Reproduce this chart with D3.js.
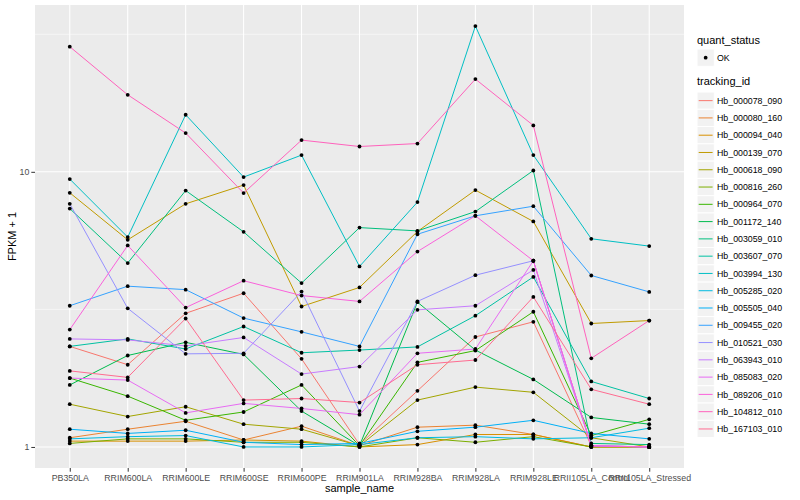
<!DOCTYPE html>
<head>
<meta charset="utf-8">
<style>

body {
  margin: 0;
  background-color: #fff;
  font-family: "Liberation Sans", Arial, sans-serif;
}

.grid-major line {
  stroke: #fff;
  stroke-width: 1.07;
}

.grid-minor line {
  stroke: #fff;
  stroke-width: 0.53;
}

.axis text {
  fill: #4d4d4d;
  font-size: 8.8px;
  font-family: "Liberation Sans", Arial, sans-serif;
}

.axis line {
  stroke: #333;
}

.legend text {
  font-size: 8.8px;
  fill: #000;
}

</style>
</head>
<body>
<svg width="800" height="500"></svg>
<script src="https://d3js.org/d3.v7.min.js"></script>
<script>
// samples on the x axis
var samples = ["PB350LA", "RRIM600LA", "RRIM600LE", "RRIM600SE", "RRIM600PE", "RRIM901LA",
  "RRIM928BA", "RRIM928LA", "RRIM928LE", "RRII105LA_Control", "RRII105LA_Stressed"];

var trackingIds = ["Hb_000078_090", "Hb_000080_160", "Hb_000094_040", "Hb_000139_070", "Hb_000618_090",
  "Hb_000816_260", "Hb_000964_070", "Hb_001172_140", "Hb_003059_010", "Hb_003607_070",
  "Hb_003994_130", "Hb_005285_020", "Hb_005505_040", "Hb_009455_020", "Hb_010521_030",
  "Hb_063943_010", "Hb_085083_020", "Hb_089206_010", "Hb_104812_010", "Hb_167103_010"];

// FPKM + 1, one value per sample
var hb_000078_090 = [2.32, 1.99, 3.06, 3.62, 2.09, 1.02, 1.60, 2.51, 2.85, 1.01, 1.00];
var hb_000080_160 = [1.08, 1.16, 1.24, 1.06, 1.19, 1.01, 1.18, 1.20, 1.11, 1.00, 1.00];
var hb_000094_040 = [1.05, 1.05, 1.05, 1.06, 1.05, 1.00, 1.02, 1.11, 1.11, 1.00, 1.00];
var hb_000139_070 = [8.39, 5.66, 7.65, 8.95, 3.24, 3.80, 6.07, 8.58, 6.60, 2.81, 2.88];
var hb_000618_090 = [1.43, 1.29, 1.40, 1.21, 1.16, 1.01, 1.48, 1.65, 1.58, 1.08, 1.00];
var hb_000816_260 = [1.03, 1.07, 1.07, 1.04, 1.04, 1.00, 1.08, 1.04, 1.09, 1.00, 1.00];
var hb_000964_070 = [1.78, 1.53, 1.25, 1.34, 1.68, 1.01, 2.03, 2.24, 3.10, 1.10, 1.26];
var hb_001172_140 = [1.68, 2.15, 2.40, 2.17, 1.35, 1.01, 3.36, 2.25, 1.76, 1.28, 1.21];
var hb_003059_010 = [7.35, 4.66, 8.55, 6.05, 3.94, 6.27, 6.10, 7.17, 10.11, 1.03, 1.02];
var hb_003607_070 = [2.32, 2.47, 2.27, 2.74, 2.20, 2.25, 2.31, 3.00, 4.15, 1.73, 1.50];
var hb_003994_130 = [9.41, 5.79, 16.12, 9.57, 11.50, 4.53, 7.76, 33.87, 11.50, 5.71, 5.37];
var hb_005285_020 = [1.07, 1.09, 1.10, 1.00, 1.00, 1.02, 1.08, 1.09, 1.07, 1.08, 1.17];
var hb_005505_040 = [1.16, 1.12, 1.15, 1.04, 1.02, 1.03, 1.14, 1.18, 1.25, 1.12, 1.07];
var hb_009455_020 = [3.26, 3.84, 3.73, 2.94, 2.62, 2.32, 5.93, 6.92, 7.50, 4.20, 3.66];
var hb_010521_030 = [7.65, 3.19, 2.18, 2.19, 3.67, 1.35, 3.38, 4.21, 4.75, 1.01, 1.00];
var hb_063943_010 = [2.47, 2.45, 2.33, 2.50, 1.84, 1.96, 3.15, 3.26, 4.40, 1.01, 1.00];
var hb_085083_020 = [1.78, 1.75, 1.33, 1.44, 1.38, 1.31, 2.19, 2.27, 4.75, 1.01, 1.00];
var hb_089206_010 = [2.67, 5.40, 3.21, 4.02, 3.55, 3.38, 5.13, 6.92, 4.75, 1.01, 1.00];
var hb_104812_010 = [28.49, 19.05, 13.83, 8.37, 13.04, 12.36, 12.67, 21.73, 14.74, 2.10, 2.88];
var hb_167103_010 = [1.89, 1.79, 2.93, 1.48, 1.50, 1.45, 1.99, 2.07, 3.51, 1.62, 1.43];

var yTicks = [1, 10];
var yMinorTicks = [3.1623, 31.623];

var palette = ["#F8766D", "#EA8331", "#D89000", "#C09B00", "#A3A500", "#7CAE00", "#39B600", "#00BB4E",
  "#00BF7D", "#00C1A3", "#00BFC4", "#00BAE0", "#00B0F6", "#35A2FF", "#9590FF", "#C77CFF",
  "#E76BF3", "#FA62DB", "#FF62BC", "#FF6C91"];

var seriesValues = [hb_000078_090, hb_000080_160, hb_000094_040, hb_000139_070, hb_000618_090,
  hb_000816_260, hb_000964_070, hb_001172_140, hb_003059_010, hb_003607_070,
  hb_003994_130, hb_005285_020, hb_005505_040, hb_009455_020, hb_010521_030,
  hb_063943_010, hb_085083_020, hb_089206_010, hb_104812_010, hb_167103_010];

var series = trackingIds.map(function(id, i) {
  return {id: id, values: seriesValues[i].map(function(v, j) { return {sample: samples[j], value: v}; })};
});

var svg = d3.select("svg"),
    panel = {left: 35, right: 684, top: 5, bottom: 468};

var color = d3.scaleOrdinal().domain(trackingIds).range(palette);

var x = d3.scalePoint()
    .domain(samples)
    .range([panel.left, panel.right])
    .padding(0.6);

// log scale with ggplot-like 5% expansion in log space
var allValues = d3.merge(seriesValues);
var lo = Math.log10(d3.min(allValues)), hi = Math.log10(d3.max(allValues)), pad = (hi - lo) * 0.05;
var y = d3.scaleLog()
    .domain([Math.pow(10, lo - pad), Math.pow(10, hi + pad)])
    .range([panel.bottom, panel.top]);

svg.append("rect")
    .attr("x", panel.left)
    .attr("y", panel.top)
    .attr("width", panel.right - panel.left)
    .attr("height", panel.bottom - panel.top)
    .attr("fill", "#ebebeb");

svg.append("g")
    .attr("class", "grid-minor")
  .selectAll("line")
  .data(yMinorTicks)
  .enter().append("line")
    .attr("x1", panel.left).attr("x2", panel.right)
    .attr("y1", function(d) { return y(d); }).attr("y2", function(d) { return y(d); });

var major = svg.append("g").attr("class", "grid-major");
major.selectAll(".h")
  .data(yTicks)
  .enter().append("line")
    .attr("x1", panel.left).attr("x2", panel.right)
    .attr("y1", function(d) { return y(d); }).attr("y2", function(d) { return y(d); });
major.selectAll(".v")
  .data(samples)
  .enter().append("line")
    .attr("y1", panel.top).attr("y2", panel.bottom)
    .attr("x1", function(d) { return x(d); }).attr("x2", function(d) { return x(d); });

var line = d3.line()
    .x(function(d) { return x(d.sample); })
    .y(function(d) { return y(d.value); });

svg.append("g")
  .selectAll("path")
  .data(series)
  .enter().append("path")
    .attr("fill", "none")
    .attr("stroke", function(d) { return color(d.id); })
    .attr("stroke-width", 1)
    .attr("d", function(d) { return line(d.values); });

svg.append("g")
  .selectAll("circle")
  .data(d3.merge(series.map(function(s) { return s.values; })))
  .enter().append("circle")
    .attr("cx", function(d) { return x(d.sample); })
    .attr("cy", function(d) { return y(d.value); })
    .attr("r", 1.9)
    .attr("fill", "#000");

var yAxis = svg.append("g")
    .attr("class", "axis")
    .attr("transform", "translate(" + panel.left + ",0)")
    .call(d3.axisLeft(y).tickValues(yTicks).tickFormat(d3.format("d")).tickSize(3.7).tickPadding(2));
yAxis.select(".domain").remove();

var xAxis = svg.append("g")
    .attr("class", "axis")
    .attr("transform", "translate(0," + panel.bottom + ")")
    .call(d3.axisBottom(x).tickSize(3.7).tickPadding(3));
xAxis.select(".domain").remove();

svg.append("text")
    .attr("x", (panel.left + panel.right) / 2)
    .attr("y", 492)
    .attr("text-anchor", "middle")
    .style("font-size", "11px")
    .text("sample_name");

svg.append("text")
    .attr("transform", "translate(16," + (panel.top + panel.bottom) / 2 + ") rotate(-90)")
    .attr("text-anchor", "middle")
    .style("font-size", "11px")
    .text("FPKM + 1");

// legends
var legend = svg.append("g").attr("class", "legend").attr("transform", "translate(697,0)");

legend.append("text").attr("x", 0).attr("y", 44).style("font-size", "11px").text("quant_status");
legend.append("rect")
    .attr("x", 0).attr("y", 49).attr("width", 17.3).attr("height", 17.3)
    .attr("fill", "#f2f2f2").attr("stroke", "#fff");
legend.append("circle").attr("cx", 8.65).attr("cy", 57.65).attr("r", 1.9).attr("fill", "#000");
legend.append("text").attr("x", 20).attr("y", 60.8).text("OK");

legend.append("text").attr("x", 0).attr("y", 85).style("font-size", "11px").text("tracking_id");

var key = legend.selectAll(".key")
  .data(trackingIds)
  .enter().append("g")
    .attr("class", "key")
    .attr("transform", function(d, i) { return "translate(0," + (92 + i * 17.28) + ")"; });

key.append("rect")
    .attr("width", 17.3).attr("height", 17.28)
    .attr("fill", "#f2f2f2").attr("stroke", "#fff");
key.append("line")
    .attr("x1", 1.7).attr("x2", 15.6)
    .attr("y1", 8.64).attr("y2", 8.64)
    .attr("stroke", function(d) { return color(d); })
    .attr("stroke-width", 1);
key.append("text")
    .attr("x", 20).attr("y", 11.8)
    .text(function(d) { return d; });

</script>
</body>
